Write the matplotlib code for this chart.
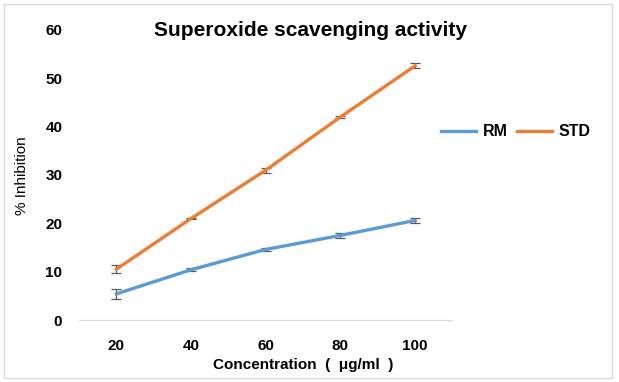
import matplotlib
matplotlib.use('Agg')
import matplotlib.pyplot as plt
from matplotlib.lines import Line2D
from matplotlib.patches import Rectangle

plt.rcParams['font.family'] = ['Liberation Sans', 'DejaVu Sans']
plt.rcParams['font.weight'] = 'bold'

conc = ['20', '40', '60', '80', '100']
rm = [5.4, 10.4, 14.6, 17.5, 20.6]
rm_err = [1.0, 0.3, 0.3, 0.6, 0.6]
std = [10.5, 21.0, 31.0, 42.0, 52.6]
std_err = [0.8, 0.2, 0.5, 0.2, 0.5]

blue = '#5B9BD5'
orange = '#ED7D31'

fig = plt.figure(figsize=(6.19, 3.82), dpi=100)
ax = fig.add_axes([0.1276, 0.1623, 0.6034, 0.7592])

x = range(len(conc))
ax.errorbar(x, rm, yerr=rm_err, color=blue, lw=2.4, ecolor='#595959',
            elinewidth=0.9, capsize=3.5, capthick=0.9)
ax.errorbar(x, std, yerr=std_err, color=orange, lw=2.4, ecolor='#595959',
            elinewidth=0.9, capsize=3.5, capthick=0.9)

ax.set_xlim(-0.5, len(conc) - 0.5)
ax.set_ylim(0, 60)
ax.set_yticks(range(0, 61, 10))
ax.set_xticks(list(x))
ax.set_xticklabels(conc)
for s in ['top', 'right', 'left']:
    ax.spines[s].set_visible(False)
ax.spines['bottom'].set_color('#D9D9D9')
ax.tick_params(axis='both', length=0, labelsize=11)
ax.tick_params(axis='y', pad=12)
ax.tick_params(axis='x', pad=14)

fig.text(22 / 619, 1 - 176 / 382, '% Inhibition', rotation=90, ha='center', va='center',
         fontsize=11, weight='normal')
fig.text(303 / 619, 1 - 365 / 382, 'Concentration  (  μg/ml  )', ha='center', va='center',
         fontsize=11, weight='bold')
fig.text(310 / 619, 1 - 31 / 382, 'Superoxide scavenging activity', ha='center', va='center',
         fontsize=15, weight='bold')

handles = [Line2D([], [], color=blue, lw=2.4), Line2D([], [], color=orange, lw=2.4)]
fig.legend(handles, ['RM', 'STD'], loc='center left', bbox_to_anchor=(441 / 619, 1 - 132 / 382),
           ncol=2, frameon=False, fontsize=11.5, handlelength=2.2, columnspacing=0.6,
           handletextpad=0.4, borderpad=0, borderaxespad=0)

fig.patches.append(Rectangle((0.006, 0.01), 0.982, 0.98, transform=fig.transFigure,
                             fill=False, edgecolor='#D9D9D9', lw=1))

fig.savefig('out.png', dpi=100)
